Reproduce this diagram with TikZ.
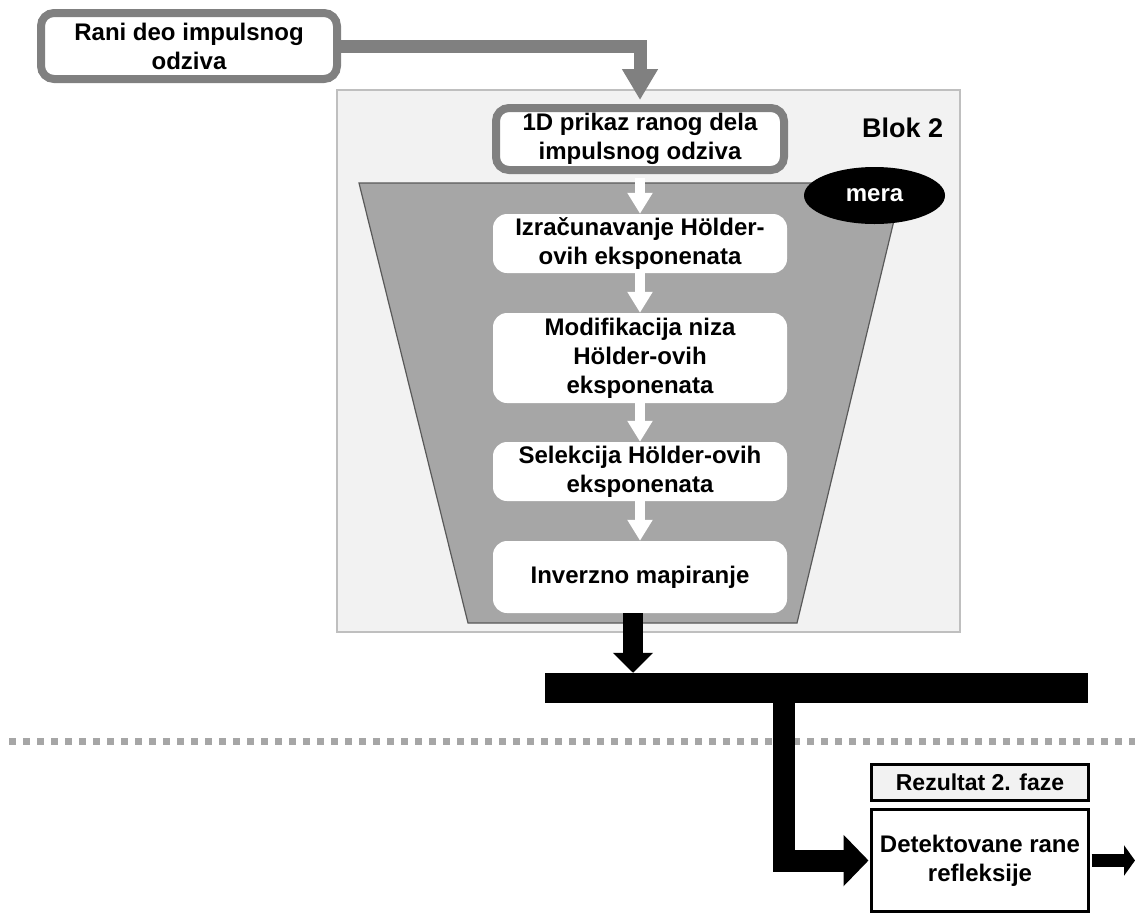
\documentclass[tikz,border=0pt]{standalone}
\usepackage{fontspec}
\setmainfont{Liberation Sans}
\usetikzlibrary{arrows.meta,shapes.geometric}
\definecolor{boxgray}{HTML}{808080}
\definecolor{trapgray}{HTML}{A6A6A6}
\definecolor{trapedge}{HTML}{595959}
\definecolor{bglight}{HTML}{F2F2F2}
\definecolor{bgedge}{HTML}{BFBFBF}
\definecolor{dashgray}{HTML}{A6A6A6}
\tikzset{
  txt/.style={font=\bfseries\fontsize{24}{29}\selectfont, align=center, inner sep=0pt},
  graybox/.style={txt, draw=boxgray, line width=8pt, fill=white, rounded corners=13pt},
  whitebox/.style={txt, fill=white, rounded corners=14pt, minimum width=294pt},
  blackbox/.style={txt, draw=black, line width=3pt, minimum width=217pt},
  grayarrow/.style={draw=boxgray, line width=13pt, -{Triangle[width=34pt,length=31pt]}},
  whitearrow/.style={draw=white, line width=10pt, -{Triangle[width=24pt,length=21pt]}},
  blackarrow/.style={draw=black, line width=20pt, -{Triangle[width=39pt,length=20pt]}},
}
\begin{document}
\begin{tikzpicture}[x=1pt,y=-1pt]
\useasboundingbox (0,0) rectangle (1135,913);
% Blok 2 background
\filldraw[fill=bglight, draw=bgedge, line width=1.5pt] (337,90) rectangle (960,632);
% trapezoid
\filldraw[fill=trapgray, draw=trapedge, line width=1.2pt] (359,183) -- (903,183) -- (797,623) -- (468,623) -- cycle;
% separator
\draw[dashgray, line width=7pt, dash pattern=on 7pt off 7pt] (9,741) -- (1135,741);

\node[txt, anchor=base west, font=\bfseries\fontsize{27}{32}\selectfont] (blok) at (862,137) {Blok 2};
\node[ellipse, fill=black, minimum width=141pt, minimum height=57pt, inner sep=0pt,
      text=white, font=\bfseries\fontsize{24}{29}\selectfont] (mera) at (874.5,195.5) {mera};

\node[graybox, minimum width=296pt, minimum height=66pt] (rani) at (189,46) {Rani deo impulsnog\\odziva};
\node[graybox, minimum width=288pt, minimum height=62pt] (box1) at (640,139) {1D prikaz ranog dela\\impulsnog odziva};

\node[whitebox, minimum height=59pt] (izr) at (640,243.5) {Izračunavanje Hölder-\\ovih eksponenata};
\node[whitebox, minimum height=90pt] (mod) at (640,358) {Modifikacija niza\\Hölder-ovih\\eksponenata};
\node[whitebox, minimum height=59pt] (sel) at (640,471.5) {Selekcija Hölder-ovih\\eksponenata};
\node[whitebox, minimum height=72pt] (inv) at (640,577) {Inverzno mapiranje};

\node[fill=black, minimum width=543pt, minimum height=30pt, inner sep=0pt] (bar) at (816.5,688) {};

\node[blackbox, fill=bglight, minimum height=36pt, font=\bfseries\fontsize{23}{28}\selectfont] (rez) at (980,782.5) {Rezultat 2. faze};
\node[blackbox, fill=white, minimum height=102pt] (det) at (980,860.5) {Detektovane rane\\refleksije};

\coordinate (lx) at (784,0);
\coordinate (endc) at (1135,0);

% connectors
\draw[grayarrow] (rani.east) -| ([yshift=4pt]box1.north);
\draw[whitearrow] ([yshift=-4pt]box1.south) -- (izr.north);
\draw[whitearrow] (izr.south) -- (mod.north);
\draw[whitearrow] (mod.south) -- (sel.north);
\draw[whitearrow] (sel.south) -- (inv.north);
\draw[blackarrow] ([xshift=-7pt]inv.south) -- ([xshift=-7pt]inv.south |- bar.north);
\draw[draw=black, line width=22pt, line join=miter, -{Triangle[width=50pt,length=25pt]}] (lx |- bar.south) |- ([xshift=-1.5pt]det.west);
\draw[draw=black, line width=13pt, -{Triangle[width=30pt,length=11pt]}] ([xshift=1.5pt]det.east) -- (det.east -| endc);
\end{tikzpicture}
\end{document}
